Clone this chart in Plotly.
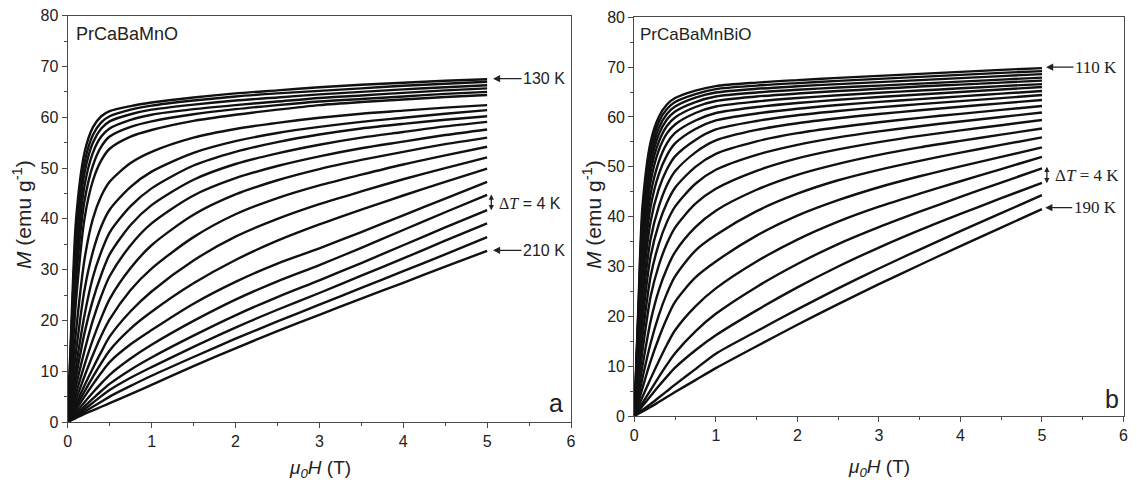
import plotly.graph_objects as go

# magnetic field grid (T)
H = [0, 0.05, 0.1, 0.2, 0.3, 0.4, 0.5, 0.75, 1, 1.5, 2, 2.5, 3, 3.5, 4, 4.5, 5]

# ---- panel a: PrCaBaMnO, 130 K ... 210 K (step 4 K), M in emu/g
temps_a = [130, 134, 138, 142, 146, 150, 154, 158, 162, 166, 170,
           174, 178, 182, 186, 190, 194, 198, 202, 206, 210]
a130 = [0, 22, 40, 53, 58, 60.2, 61.2, 62.2, 62.9, 63.9, 64.7, 65.3, 65.9, 66.4, 66.8, 67.2, 67.5]
a134 = [0, 20, 37, 51, 56.5, 59.0, 60.2, 61.5, 62.3, 63.3, 64.1, 64.7, 65.2, 65.7, 66.2, 66.6, 67.0]
a138 = [0, 18, 34, 49, 55, 57.8, 59.2, 60.6, 61.5, 62.5, 63.3, 63.9, 64.5, 65.0, 65.5, 65.9, 66.3]
a142 = [0, 16, 31, 46.5, 53, 56.2, 57.8, 59.5, 60.5, 61.6, 62.4, 63.1, 63.8, 64.3, 64.8, 65.3, 65.7]
a146 = [0, 14, 28, 43.5, 50.5, 54.2, 56.2, 58.1, 59.2, 60.6, 61.6, 62.4, 63.1, 63.6, 64.1, 64.6, 65.0]
a150 = [0, 12, 24, 40, 47.5, 51.5, 53.8, 56.2, 57.5, 59.3, 60.5, 61.5, 62.4, 63.0, 63.5, 64.0, 64.4]
a154 = [0, 9, 18, 32, 40, 44.5, 47.3, 51.0, 53.2, 56.0, 57.7, 58.9, 59.9, 60.7, 61.3, 61.9, 62.4]
a158 = [0, 7, 14, 26, 33.5, 38.5, 41.8, 46.3, 49.3, 53.0, 55.3, 56.9, 58.1, 59.1, 59.9, 60.7, 61.4]
a162 = [0, 5.5, 11, 21, 28.5, 33.5, 37.3, 42.5, 46.0, 50.5, 53.2, 55.1, 56.6, 57.8, 58.7, 59.5, 60.2]
a166 = [0, 4.5, 9, 17.5, 24, 29, 33, 38.8, 42.7, 47.7, 50.8, 52.9, 54.6, 56.0, 57.1, 58.2, 59.1]
a170 = [0, 3.5, 7.2, 14, 20, 24.8, 28.7, 34.8, 39.1, 44.6, 48.0, 50.4, 52.3, 53.9, 55.2, 56.5, 57.6]
a174 = [0, 2.8, 5.7, 11.2, 16.2, 20.5, 24.2, 30.3, 34.8, 40.8, 44.8, 47.6, 49.8, 51.6, 53.2, 54.7, 56.0]
a178 = [0, 2.2, 4.5, 9, 13.2, 17, 20.2, 26, 30.2, 36.4, 40.9, 44.1, 46.6, 48.7, 50.7, 52.5, 54.2]
a182 = [0, 1.8, 3.6, 7.2, 10.6, 13.8, 16.8, 21.8, 25.7, 31.8, 36.5, 40.0, 42.9, 45.4, 47.8, 50.0, 52.1]
a186 = [0, 1.5, 3, 6, 8.9, 11.6, 14.1, 18.4, 21.7, 27.3, 31.9, 35.7, 38.9, 41.8, 44.6, 47.3, 49.9]
a190 = [0, 1.2, 2.5, 5, 7.4, 9.7, 11.8, 15.3, 18.1, 23.3, 27.6, 31.2, 34.2, 37.4, 40.7, 44.0, 47.3]
a194 = [0, 0.9, 1.9, 3.9, 5.8, 7.6, 9.3, 12.5, 15.2, 19.9, 24.1, 27.7, 30.9, 34.3, 37.8, 41.3, 44.7]
a198 = [0, 0.7, 1.5, 3.1, 4.6, 6.1, 7.5, 10.3, 12.7, 17.0, 21.0, 24.6, 27.9, 31.3, 34.8, 38.3, 41.7]
a202 = [0, 0.6, 1.2, 2.5, 3.8, 5.1, 6.3, 8.7, 10.8, 14.8, 18.6, 22.1, 25.4, 28.8, 32.2, 35.7, 39.1]
a206 = [0, 0.5, 1.0, 2.0, 3.0, 4.0, 5.0, 7.1, 9.1, 12.8, 16.4, 19.8, 23.1, 26.4, 29.7, 33.0, 36.4]
a210 = [0, 0.4, 0.8, 1.6, 2.3, 3.0, 3.7, 5.5, 7.3, 11.0, 14.5, 17.9, 21.1, 24.3, 27.4, 30.6, 33.7]
curves_a = [a130, a134, a138, a142, a146, a150, a154, a158, a162, a166, a170,
            a174, a178, a182, a186, a190, a194, a198, a202, a206, a210]

# ---- panel b: PrCaBaMnBiO, 110 K ... 190 K (step 4 K)
temps_b = [110, 114, 118, 122, 126, 130, 134, 138, 142, 146, 150,
           154, 158, 162, 166, 170, 174, 178, 182, 186, 190]
b110 = [0, 22, 42, 55, 60, 62.5, 63.8, 65.3, 66.2, 66.9, 67.4, 67.85, 68.25, 68.65, 69.05, 69.45, 69.8]
b114 = [0, 21, 40, 53.5, 59, 61.6, 63.0, 64.6, 65.6, 66.3, 66.8, 67.25, 67.65, 68.05, 68.45, 68.85, 69.2]
b118 = [0, 20, 38, 52, 57.8, 60.6, 62.1, 63.9, 64.9, 65.65, 66.15, 66.6, 67.0, 67.4, 67.8, 68.2, 68.6]
b122 = [0, 19, 36, 50.5, 56.5, 59.5, 61.1, 63.0, 64.1, 64.9, 65.45, 65.9, 66.3, 66.7, 67.1, 67.5, 67.9]
b126 = [0, 18, 34, 49, 55, 58.2, 59.9, 62.0, 63.2, 64.1, 64.7, 65.2, 65.65, 66.1, 66.5, 66.9, 67.3]
b130 = [0, 17, 32, 47, 53.3, 56.7, 58.5, 60.8, 62.1, 63.1, 63.8, 64.35, 64.85, 65.3, 65.75, 66.2, 66.6]
b134 = [0, 15.5, 30, 44.5, 51, 54.7, 56.8, 59.3, 60.8, 62.0, 62.8, 63.45, 64.0, 64.52, 65.02, 65.52, 66.0]
b138 = [0, 14, 27.5, 42, 48.5, 52.3, 54.7, 57.6, 59.3, 60.7, 61.65, 62.4, 63.02, 63.59, 64.14, 64.69, 65.2]
b142 = [0, 12.5, 25, 39, 45.5, 49.5, 52.1, 55.4, 57.5, 59.2, 60.35, 61.2, 61.92, 62.57, 63.19, 63.79, 64.4]
b146 = [0, 11, 22, 35.5, 42, 46.3, 49.1, 52.9, 55.3, 57.4, 58.75, 59.75, 60.6, 61.35, 62.05, 62.73, 63.4]
b150 = [0, 9.5, 19, 32, 38.5, 42.8, 45.8, 50.0, 52.6, 55.1, 56.75, 57.95, 58.95, 59.83, 60.63, 61.43, 62.2]
b154 = [0, 8, 16, 28, 34.5, 38.9, 42.0, 46.6, 49.4, 52.4, 54.4, 55.9, 57.1, 58.15, 59.1, 60.0, 60.9]
b158 = [0, 6.5, 13, 24, 30.2, 34.6, 37.8, 42.6, 45.6, 49.2, 51.7, 53.5, 54.95, 56.2, 57.3, 58.35, 59.4]
b162 = [0, 5.0, 10, 19, 25.2, 29.6, 32.9, 37.9, 41.2, 45.4, 48.4, 50.6, 52.4, 53.9, 55.2, 56.45, 57.7]
b166 = [0, 3.8, 7.6, 14.6, 20.2, 24.6, 28.0, 33.2, 36.3, 41.1, 44.6, 47.3, 49.4, 51.2, 52.85, 54.4, 55.9]
b170 = [0, 2.8, 5.6, 11.0, 15.6, 19.6, 22.9, 27.8, 31.0, 36.2, 40.2, 43.3, 45.9, 48.1, 50.1, 52.0, 53.9]
b174 = [0, 1.9, 3.8, 7.5, 11.0, 14.3, 17.2, 22.0, 25.6, 31.0, 35.4, 39.0, 42.0, 44.6, 47.1, 49.55, 52.0]
b178 = [0, 1.3, 2.6, 5.2, 7.8, 10.3, 12.6, 17.0, 20.5, 25.9, 30.5, 34.5, 37.9, 41.0, 43.95, 46.85, 49.7]
b182 = [0, 1.0, 2.0, 4.0, 6.0, 7.9, 9.7, 13.2, 16.2, 21.2, 25.8, 30.0, 33.8, 37.3, 40.55, 43.7, 46.8]
b186 = [0, 0.6, 1.2, 2.4, 3.7, 5.0, 6.3, 9.4, 12.5, 17.0, 21.4, 25.6, 29.6, 33.4, 37.1, 40.7, 44.3]
b190 = [0, 0.45, 0.9, 1.8, 2.8, 3.8, 4.8, 7.2, 9.6, 14.0, 18.3, 22.45, 26.45, 30.3, 34.1, 37.8, 41.5]
curves_b = [b110, b114, b118, b122, b126, b130, b134, b138, b142, b146, b150,
            b154, b158, b162, b166, b170, b174, b178, b182, b186, b190]

x_ticks = [0, 1, 2, 3, 4, 5, 6]
y_ticks = [0, 10, 20, 30, 40, 50, 60, 70, 80]

# the page body has an 8 px margin on every side: keep the figure inside the window
OFF = 8
W, Hh = 1137 - 2 * OFF, 488 - 2 * OFF
SANS = "Liberation Sans, Arial, sans-serif"
SERIF = "Liberation Serif, Times New Roman, serif"
AX = "#4a4a4a"
TXT = "#222222"


def px(x):  # window x -> paper fraction
    return (x - OFF) / W


def py(y):  # window y -> paper fraction
    return 1 - (y - OFF) / Hh


fig = go.Figure()
for T, M in zip(temps_a, curves_a):
    fig.add_trace(go.Scatter(x=H, y=M, mode="lines", name=f"{T} K",
                             line=dict(color="#111", width=2.4, shape="spline", smoothing=0.8),
                             xaxis="x", yaxis="y", showlegend=False))
for T, M in zip(temps_b, curves_b):
    fig.add_trace(go.Scatter(x=H, y=M, mode="lines", name=f"{T} K",
                             line=dict(color="#111", width=2.4, shape="spline", smoothing=0.8),
                             xaxis="x2", yaxis="y2", showlegend=False))


def xa(domain, anchor):
    return dict(domain=domain, anchor=anchor, range=[0, 6], tickvals=x_ticks,
                ticks="outside", ticklen=5, tickwidth=1.2, tickcolor=AX,
                showline=True, linecolor=AX, linewidth=1.3, mirror=True,
                showgrid=False, zeroline=False, automargin=False,
                ticklabeloverflow="allow",
                tickfont=dict(family=SANS, size=16, color=TXT),
                minor=dict(dtick=0.5, ticks="outside", ticklen=3, tickcolor=AX, showgrid=False))


def ya(domain, anchor):
    return dict(domain=domain, anchor=anchor, range=[0, 80], tickvals=y_ticks,
                ticks="outside", ticklen=5, tickwidth=1.2, tickcolor=AX,
                showline=True, linecolor=AX, linewidth=1.3, mirror=True,
                showgrid=False, zeroline=False, automargin=False,
                ticklabeloverflow="allow",
                tickfont=dict(family=SANS, size=16, color=TXT),
                minor=dict(dtick=5, ticks="outside", ticklen=3, tickcolor=AX, showgrid=False))


fig.update_layout(
    width=W, height=Hh, autosize=False,
    margin=dict(l=0, r=0, t=0, b=0),
    paper_bgcolor="white", plot_bgcolor="white",
    xaxis=xa([px(67.7), px(571)], "y"),
    yaxis=ya([py(422), py(15.7)], "x"),
    xaxis2=xa([px(634.3), px(1123.5)], "y2"),
    yaxis2=ya([py(416), py(17.3)], "x2"),
)

ann = []


def ptext(x, y, text, size, family=SANS, xanchor="center", angle=0):
    ann.append(dict(xref="paper", yref="paper", x=px(x), y=py(y), text=text,
                    xanchor=xanchor, yanchor="middle", textangle=angle, showarrow=False,
                    font=dict(family=family, size=size, color=TXT)))


# axis titles
ptext(22, 215, "<i>M</i> (emu g<sup>-1</sup>)", 21, angle=-90)
ptext(592, 215, "<i>M</i> (emu g<sup>-1</sup>)", 21, angle=-90)
ptext(319.5, 469, "<i>μ<sub>0</sub>H</i> (T)", 19)
ptext(879, 468, "<i>μ<sub>0</sub>H</i> (T)", 19)
# sample names
ptext(74, 34, "PrCaBaMnO", 18, xanchor="left")
ptext(637.5, 35, "PrCaBaMnBiO", 17, xanchor="left")
# panel letters
ptext(556, 403, "a", 25)
ptext(1112, 399, "b", 25)

arrow = dict(showarrow=True, arrowhead=2, arrowsize=1.1, arrowwidth=1.3, arrowcolor=TXT)
# panel a labels
ann.append(dict(xref="x", yref="y", x=5.07, y=67.6, ax=51, ay=0, text="130 K",
                font=dict(family=SANS, size=16, color=TXT), **arrow))
ann.append(dict(xref="x", yref="y", x=5.07, y=33.8, ax=51, ay=0, text="210 K",
                font=dict(family=SANS, size=16, color=TXT), **arrow))
ann.append(dict(xref="x", yref="y", x=5.05, y=44.8, axref="x", ayref="y", ax=5.05, ay=41.4,
                text="", showarrow=True, arrowhead=2, startarrowhead=2, arrowside="end+start",
                arrowsize=0.8, arrowwidth=1.3, arrowcolor=TXT))
ann.append(dict(xref="x", yref="y", x=5.12, y=43.0, xanchor="left", yanchor="middle",
                showarrow=False,
                text="<span style='font-family:Liberation Serif'>Δ<i>T</i></span> = 4 K",
                font=dict(family=SANS, size=16, color=TXT)))
# panel b labels
ann.append(dict(xref="x2", yref="y2", x=5.05, y=70.0, ax=50, ay=0, text="110 K",
                font=dict(family=SERIF, size=17, color=TXT), **arrow))
ann.append(dict(xref="x2", yref="y2", x=5.04, y=41.8, ax=50, ay=0, text="190 K",
                font=dict(family=SERIF, size=17, color=TXT), **arrow))
ann.append(dict(xref="x2", yref="y2", x=5.06, y=50.0, axref="x2", ayref="y2", ax=5.06, ay=46.4,
                text="", showarrow=True, arrowhead=2, startarrowhead=2, arrowside="end+start",
                arrowsize=0.8, arrowwidth=1.3, arrowcolor=TXT))
ann.append(dict(xref="x2", yref="y2", x=5.14, y=48.2, xanchor="left", yanchor="middle",
                showarrow=False, text="Δ<i>T</i> = 4 K",
                font=dict(family=SERIF, size=17, color=TXT)))

fig.update_layout(annotations=ann)
fig.write_html("out.html")
